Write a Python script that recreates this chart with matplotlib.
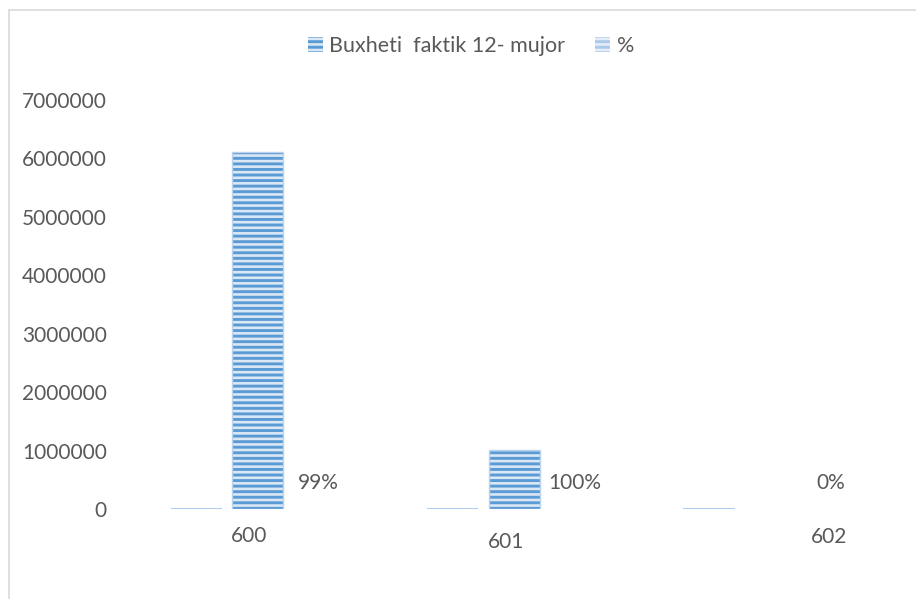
import matplotlib
matplotlib.use('Agg')
import matplotlib.pyplot as plt
from matplotlib.patches import Patch, Rectangle
import numpy as np

# data
categories = ['600', '601', '602']
buxheti = [6105000, 1010000, 0]
percent = [0.99, 1.00, 0.0]
pct_labels = ['99%', '100%', '0%']
yticks = [0, 1000000, 2000000, 3000000, 4000000, 5000000, 6000000, 7000000]

plt.rcParams['font.family'] = ['Lato', 'DejaVu Sans']
plt.rcParams['hatch.linewidth'] = 2.1

grey = '#595959'
fs = 15

fig = plt.figure(figsize=(9.16, 5.99), dpi=100)
ax = fig.add_axes([115 / 916, 90 / 599, 753 / 916, 409 / 599])

x = np.arange(len(categories))
w = 0.2
off = 0.12

# flat "%" bars (almost zero on this scale)
ax.bar(x - off, percent, w, color='#dde9f5', edgecolor='#9dc3e6', linewidth=1.2)
# striped budget bars: hatch takes the edge colour, outline drawn separately
ax.bar(x + off, buxheti, w, color='#dae7f5', edgecolor='#5b9bd5', linewidth=0,
       hatch='---')
bux = np.array(buxheti)
nz = bux > 0
ax.bar(x[nz] + off, bux[nz], w, fill=False, edgecolor='#b9d3ee', linewidth=1.0)

ax.set_xlim(-0.437, 2.5)
ax.set_ylim(0, 7000000)
ax.set_yticks(yticks)
ax.set_yticklabels([str(v) for v in yticks])
ax.set_xticks([])
ax.tick_params(axis='y', length=0, pad=6, labelsize=fs, labelcolor=grey)
for s in ax.spines.values():
    s.set_visible(False)

# category labels (placed a bit unevenly, like the original)
cat_dx = [0.086, 0.09, 0.35]
cat_dy = [-19.4, -23.8, -20.0]
for i, c in enumerate(categories):
    ax.annotate(c, (x[i] + cat_dx[i], 0), xytext=(0, cat_dy[i]), textcoords='offset points',
                ha='center', va='center', fontsize=fs, color=grey, annotation_clip=False)

# percentage data labels
for i, t in enumerate(pct_labels):
    ax.annotate(t, (x[i] + 0.355, 0), xytext=(0, 18.7), textcoords='offset points',
                ha='center', va='center', fontsize=fs, color=grey)

# legend
h1 = Patch(facecolor='#dae7f5', edgecolor='#5b9bd5', hatch='---', linewidth=0,
           label='Buxheti  faktik 12- mujor')
h2 = Patch(facecolor='#e4edf8', edgecolor='#a9c8ea', hatch='---', linewidth=0, label='%')
fig.legend(handles=[h1, h2], loc='center', bbox_to_anchor=(471 / 916, 1 - 46 / 599),
           ncol=2, frameon=False, fontsize=15.5, handlelength=0.7, handleheight=0.7,
           handletextpad=0.3, columnspacing=1.4, labelcolor=grey)

# outer chart border (runs off the right and bottom edge)
fig.patches.append(Rectangle((9 / 916, -0.05), 1.0, 1 - 10 / 599 + 0.05,
                             transform=fig.transFigure, fill=False,
                             edgecolor='#d9d9d9', linewidth=1.2))

fig.savefig('out.png', dpi=100)
